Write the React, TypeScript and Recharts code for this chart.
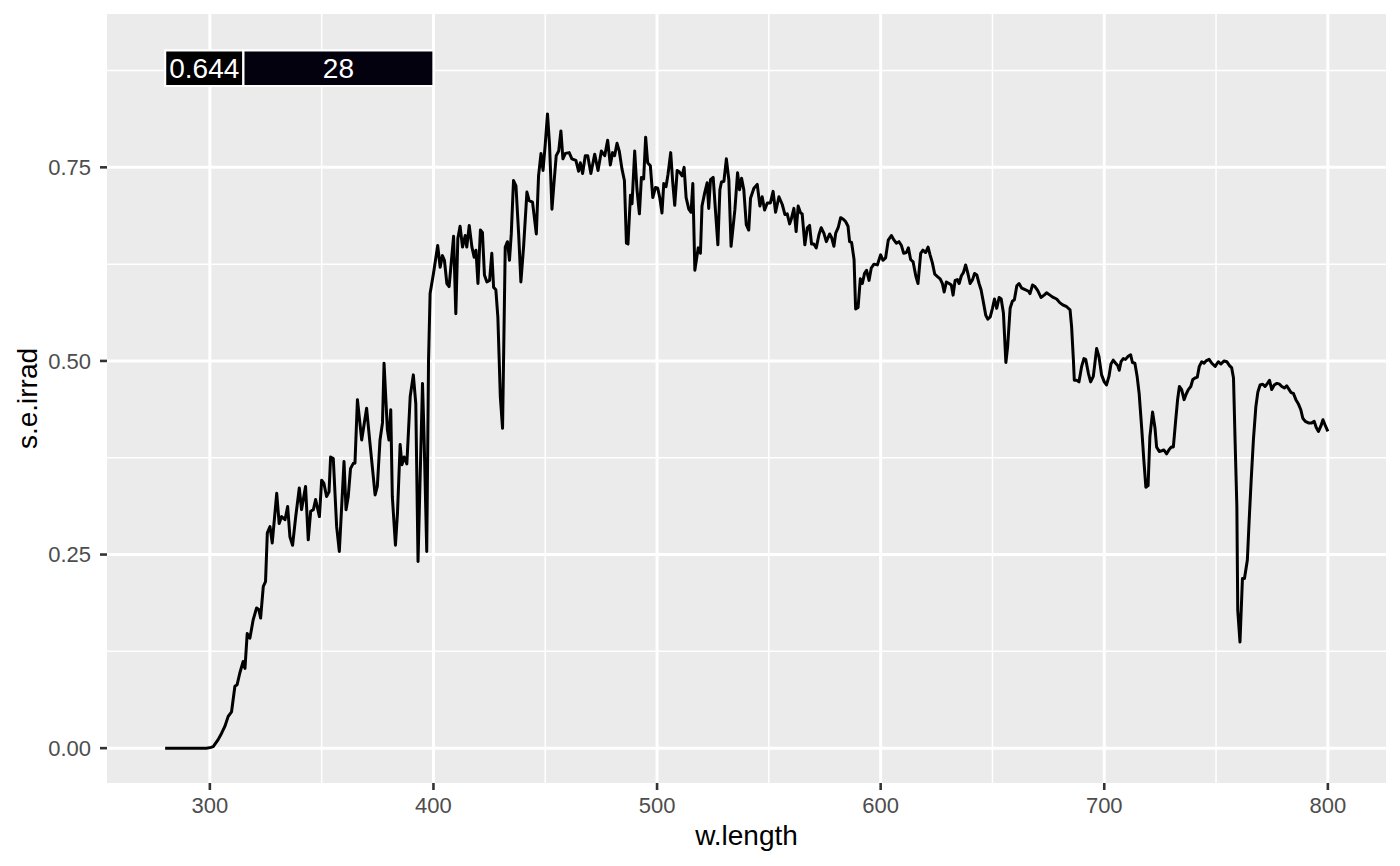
import React from "react";
import {
  ComposedChart,
  Line,
  XAxis,
  YAxis,
  CartesianGrid,
  ReferenceArea,
} from "recharts";

// wavelength (nm)
const wavelength = [
  280, 290, 298.5, 300.5, 301.5, 303.7, 305.2, 306.7, 308.2, 309.7, 311.2, 312.2, 313.4, 314.9, 315.7,
  316.7, 317.9, 319.4, 320.9, 321.9, 322.7, 323.9, 324.9, 325.7, 326.9, 327.9, 329.9, 331.0, 332.1,
  333.6, 334.8, 335.8, 337.0, 338.4, 340.0, 341.0, 342.8, 344.0, 345.1, 346.3, 347.3, 349.0, 350.0,
  351.0, 352.2, 353.3, 354.0, 355.2, 356.7, 357.9, 360.0, 360.9, 361.9, 362.9, 364.2, 364.9, 366.0,
  367.9, 370.1, 371.6, 373.9, 374.9, 376.1, 377.2, 377.9, 379.4, 380.1, 380.9, 381.6, 383.0, 383.9,
  385.1, 385.9, 386.9, 388.1, 389.6, 391.0, 392.1, 393.1, 395.1, 395.8, 397.0, 397.8,
  398.5, 400.0, 401.9, 403.0, 404.0, 404.9, 406.0, 407.0, 409.0, 410.0, 410.9, 411.9, 413.0, 414.2,
  414.9, 416.0, 417.2, 418.2, 419.0, 419.9, 421.0, 421.9, 422.8, 423.9, 425.1, 426.1, 426.9, 427.9,
  428.8, 429.9, 430.9, 432.1, 433.1, 434.0, 434.8, 435.8, 436.9, 438.1, 439.1, 440.3, 441.8, 442.8,
  444.3, 446.0, 447.0, 448.1, 449.0, 450.0, 451.0, 451.9, 453.0, 454.0, 454.9, 456.0, 457.0, 457.9,
  459.0, 460.7, 461.9, 463.7, 464.9, 465.7, 466.7, 467.9, 469.0, 470.4, 472.1, 473.6, 475.1, 476.6,
  477.9, 479.1, 480.1, 481.0, 482.1, 483.1, 484.3, 485.4, 486.3, 487.0, 488.1, 488.8, 490.0, 491.0,
  492.1, 493.0, 494.0, 494.9, 495.8, 497.0, 498.1, 499.3, 500.3, 501.2, 502.2, 503.0, 504.0, 504.9,
  506.1, 507.0, 507.9, 509.0, 510.0, 511.2, 512.1, 513.0, 514.2, 515.2, 516.0, 516.9,
  518.4, 519.4, 520.1, 521.3, 522.4, 523.1, 523.9, 525.1, 526.1, 527.2, 528.1, 528.8, 529.9, 531.0,
  532.1, 533.1, 534.8, 536.0, 536.9, 537.8, 538.8, 539.9, 541.0, 541.8, 543.3, 544.8, 546.0, 547.0,
  548.1, 549.3, 550.7, 551.9, 553.0, 554.5, 556.0, 557.2, 558.2, 559.3, 560.1, 561.2, 562.2, 563.1,
  564.2, 564.9, 566.1, 567.2, 568.2, 569.1, 570.1, 571.2, 572.4, 573.4, 574.6, 575.7, 577.2, 578.1,
  579.1, 579.9, 581.0, 582.1, 583.3, 584.3, 585.4, 586.1, 587.0, 588.1, 588.8, 589.9, 590.9, 591.8,
  592.8, 593.7, 594.8, 595.8, 597.0, 598.5, 600.0, 601.0, 602.2, 603.4, 604.8, 606.0, 607.0, 608.2,
  609.3, 610.3, 611.5, 612.4, 613.4, 614.5, 615.7, 616.7, 617.9, 618.9, 620.1, 621.2, 622.1, 623.1,
  624.2, 625.4, 626.6, 627.6, 628.4, 629.4, 630.6, 631.6, 632.4, 633.3, 634.3, 635.1, 636.1, 637.0,
  638.0, 639.0, 640.0, 641.1, 642.0, 643.0, 644.0, 644.9, 646.0, 647.0, 647.9, 649.0, 650.0, 650.9,
  651.9, 653.0, 653.9, 654.9, 656.0, 656.8, 657.9, 658.9, 659.8, 660.9, 661.9, 663.1, 664.6, 666.1,
  666.8, 667.9, 669.0, 670.2, 671.7, 673.1, 674.2, 675.7, 677.2, 678.7, 680.2, 681.7, 683.2, 684.7,
  685.4, 686.2, 686.6, 687.6, 688.7, 689.9, 690.9, 691.7, 692.9, 693.9, 695.1, 696.6, 697.6, 698.8,
  700.0, 701.0, 702.1, 703.0, 704.0, 705.1, 706.0, 706.7, 707.5, 708.5, 709.5, 710.7, 711.8, 712.6,
  713.7, 714.7, 715.6, 716.7, 717.7, 718.6, 719.6, 720.4, 721.6, 722.7, 723.4, 724.6, 725.7, 726.7,
  727.9, 729.1, 730.1, 730.9, 731.9, 732.8, 733.6, 734.6, 735.7, 736.6, 737.6, 738.7, 739.6, 740.6,
  741.6, 742.5, 743.6, 744.6, 745.5, 746.9, 748.1, 749.6, 751.0, 752.2, 753.6, 754.8, 756.0, 757.0,
  757.8, 758.5, 759.3, 759.7, 760.7, 761.8, 762.7, 764.0, 764.8, 765.7, 766.7, 767.8, 768.7, 769.7,
  770.9, 771.9, 773.0, 773.9, 774.9, 776.0, 777.2, 778.4, 779.4, 780.6, 781.6, 782.7, 783.6, 784.6,
  785.7, 786.9, 787.9, 788.8, 789.9, 791.3, 792.8, 793.9, 794.8, 795.8, 796.9, 797.8, 798.8, 800,
];

// spectral energy irradiance (s.e.irrad)
const irradiance = [
  0, 0, 0, 0.001, 0.002, 0.011, 0.019, 0.028, 0.041, 0.047, 0.08, 0.082, 0.097, 0.112, 0.103,
  0.148, 0.142, 0.166, 0.181, 0.179, 0.168, 0.209, 0.215, 0.278, 0.286, 0.265, 0.329, 0.29, 0.299,
  0.295, 0.312, 0.273, 0.262, 0.299, 0.336, 0.308, 0.338, 0.269, 0.306, 0.308, 0.321, 0.299, 0.346,
  0.342, 0.325, 0.331, 0.376, 0.374, 0.286, 0.254, 0.37, 0.308, 0.325, 0.361, 0.368, 0.368, 0.45,
  0.398, 0.439, 0.394, 0.327, 0.338, 0.398, 0.42, 0.497, 0.411, 0.398, 0.437, 0.325, 0.262, 0.303,
  0.392, 0.366, 0.376, 0.367, 0.454, 0.482, 0.445, 0.241, 0.471, 0.402, 0.254, 0.501,
  0.587, 0.613, 0.649, 0.621, 0.636, 0.63, 0.6, 0.596, 0.661, 0.561, 0.658, 0.674, 0.647, 0.662,
  0.647, 0.675, 0.647, 0.634, 0.643, 0.6, 0.669, 0.666, 0.611, 0.602, 0.604, 0.639, 0.595, 0.592,
  0.557, 0.454, 0.413, 0.647, 0.654, 0.63, 0.664, 0.733, 0.726, 0.664, 0.602, 0.647, 0.718, 0.707,
  0.705, 0.664, 0.739, 0.768, 0.746, 0.78, 0.819, 0.78, 0.696, 0.733, 0.765, 0.771, 0.797, 0.761,
  0.768, 0.769, 0.761, 0.759, 0.745, 0.756, 0.742, 0.765, 0.765, 0.742, 0.767, 0.746, 0.771, 0.765,
  0.785, 0.753, 0.769, 0.765, 0.781, 0.771, 0.748, 0.733, 0.652, 0.651, 0.714, 0.703, 0.771, 0.722,
  0.69, 0.737, 0.735, 0.789, 0.756, 0.752, 0.711, 0.724, 0.723, 0.711, 0.691, 0.729, 0.725, 0.741,
  0.769, 0.731, 0.701, 0.746, 0.744, 0.739, 0.75, 0.711, 0.696, 0.692, 0.729, 0.617,
  0.646, 0.639, 0.7, 0.717, 0.73, 0.697, 0.734, 0.737, 0.695, 0.65, 0.721, 0.731, 0.732, 0.761,
  0.734, 0.648, 0.695, 0.743, 0.721, 0.736, 0.721, 0.676, 0.669, 0.71, 0.723, 0.728, 0.7, 0.712,
  0.695, 0.704, 0.704, 0.719, 0.692, 0.712, 0.702, 0.689, 0.69, 0.677, 0.684, 0.697, 0.667, 0.7,
  0.691, 0.69, 0.65, 0.672, 0.675, 0.651, 0.651, 0.646, 0.663, 0.672, 0.665, 0.654, 0.664, 0.659,
  0.648, 0.665, 0.672, 0.685, 0.683, 0.68, 0.674, 0.654, 0.653, 0.631, 0.567, 0.569, 0.606, 0.6,
  0.613, 0.617, 0.604, 0.62, 0.625, 0.624, 0.637, 0.63, 0.633, 0.656, 0.662, 0.656, 0.652, 0.654,
  0.649, 0.639, 0.64, 0.646, 0.631, 0.628, 0.61, 0.6, 0.639, 0.643, 0.64, 0.647, 0.637, 0.627,
  0.612, 0.609, 0.606, 0.6, 0.589, 0.602, 0.6, 0.598, 0.585, 0.604, 0.605, 0.6, 0.61, 0.614,
  0.624, 0.613, 0.6, 0.605, 0.613, 0.611, 0.6, 0.592, 0.575, 0.559, 0.554, 0.557, 0.568, 0.58,
  0.568, 0.582, 0.58, 0.562, 0.498, 0.519, 0.568, 0.577, 0.579, 0.597, 0.6, 0.594, 0.592, 0.59,
  0.587, 0.598, 0.596, 0.591, 0.582, 0.585, 0.588, 0.585, 0.582, 0.58, 0.575, 0.572, 0.57, 0.566,
  0.544, 0.501, 0.475, 0.475, 0.473, 0.493, 0.503, 0.502, 0.484, 0.473, 0.48, 0.516, 0.506, 0.482,
  0.473, 0.469, 0.48, 0.496, 0.501, 0.497, 0.494, 0.488, 0.499, 0.503, 0.502, 0.506, 0.508, 0.498,
  0.497, 0.48, 0.458, 0.415, 0.372, 0.337, 0.339, 0.402, 0.434, 0.413, 0.389, 0.383, 0.384, 0.385,
  0.38, 0.386, 0.389, 0.389, 0.422, 0.45, 0.467, 0.463, 0.45, 0.457, 0.463, 0.467, 0.476, 0.478,
  0.479, 0.493, 0.499, 0.497, 0.5, 0.502, 0.497, 0.493, 0.499, 0.496, 0.5, 0.499, 0.494, 0.491,
  0.478, 0.398, 0.312, 0.178, 0.137, 0.219, 0.219, 0.243, 0.294, 0.346, 0.398, 0.441, 0.46, 0.469,
  0.47, 0.467, 0.471, 0.475, 0.463, 0.469, 0.471, 0.47, 0.467, 0.465, 0.468, 0.463, 0.459, 0.458,
  0.45, 0.444, 0.437, 0.426, 0.422, 0.42, 0.42, 0.422, 0.414, 0.409, 0.416, 0.424, 0.417, 0.409,
];

// annotation bands: edges, labels and fills
const bandEdges = [280, 315, 400];
const bandLabels = ["0.644", "28"];
const bandFills = ["#000000", "#03010E"];
const bandBottom = 0.855;
const bandTop = 0.901;

const xTicks = [300, 400, 500, 600, 700, 800];
const xMinor = [350, 450, 550, 650, 750];
const yTicks = [0, 0.25, 0.5, 0.75];
const yMinor = [0.125, 0.375, 0.625, 0.875];

const FONT = "'Liberation Sans', Arial, sans-serif";

const data = wavelength.map((w, i) => ({ w, irrad: irradiance[i] }));

function XTitle(props: any) {
  const vb = props.viewBox;
  return (
    <text x={vb.x + vb.width / 2} y={845} textAnchor="middle" fontFamily={FONT} fontSize={28} fill="#000">
      w.length
    </text>
  );
}

function YTitle(props: any) {
  const vb = props.viewBox;
  const cy = vb.y + vb.height / 2;
  return (
    <text x={37} y={cy} transform={`rotate(-90, 37, ${cy})`} textAnchor="middle" fontFamily={FONT} fontSize={28} fill="#000">
      s.e.irrad
    </text>
  );
}

export default function App() {
  return (
    <div style={{ position: "absolute", left: 0, top: 0, width: 1400, height: 866, background: "#fff" }}>
      <ComposedChart width={1400} height={866} data={data} margin={{ top: 14, right: 14, bottom: 0, left: 0 }}>
        <CartesianGrid
          fill="#EBEBEB"
          fillOpacity={1}
          stroke="#FFFFFF"
          strokeWidth={1.5}
          horizontalValues={yMinor}
          verticalValues={xMinor}
        />
        <CartesianGrid stroke="#FFFFFF" strokeWidth={3} horizontalValues={yTicks} verticalValues={xTicks} />
        <XAxis
          dataKey="w"
          type="number"
          domain={[254, 826]}
          ticks={xTicks}
          allowDataOverflow
          height={83}
          axisLine={false}
          tickSize={7}
          tickMargin={7}
          tickLine={{ stroke: "#333333", strokeWidth: 2.6 }}
          tick={{ fontFamily: FONT, fontSize: 22, fill: "#4D4D4D" }}
          label={(p: any) => <XTitle {...p} />}
        />
        <YAxis
          type="number"
          domain={[-0.045, 0.948]}
          ticks={yTicks}
          allowDataOverflow
          width={107}
          axisLine={false}
          tickSize={7}
          tickMargin={9}
          tickLine={{ stroke: "#333333", strokeWidth: 2.6 }}
          tick={{ fontFamily: FONT, fontSize: 22, fill: "#4D4D4D" }}
          tickFormatter={(v: number) => v.toFixed(2)}
          label={(p: any) => <YTitle {...p} />}
        />
        {bandLabels.map((lab, i) => (
          <ReferenceArea
            key={lab}
            x1={bandEdges[i]}
            x2={bandEdges[i + 1]}
            y1={bandBottom}
            y2={bandTop}
            fill={bandFills[i]}
            fillOpacity={1}
            stroke="#FFFFFF"
            strokeWidth={2.2}
            ifOverflow="visible"
            label={{ value: lab, position: "center", fill: "#FFFFFF", fontSize: 28, fontFamily: FONT }}
          />
        ))}
        <Line
          type="linear"
          dataKey="irrad"
          stroke="#000000"
          strokeWidth={3}
          strokeLinejoin="round"
          dot={false}
          activeDot={false}
          isAnimationActive={false}
        />
      </ComposedChart>
    </div>
  );
}
